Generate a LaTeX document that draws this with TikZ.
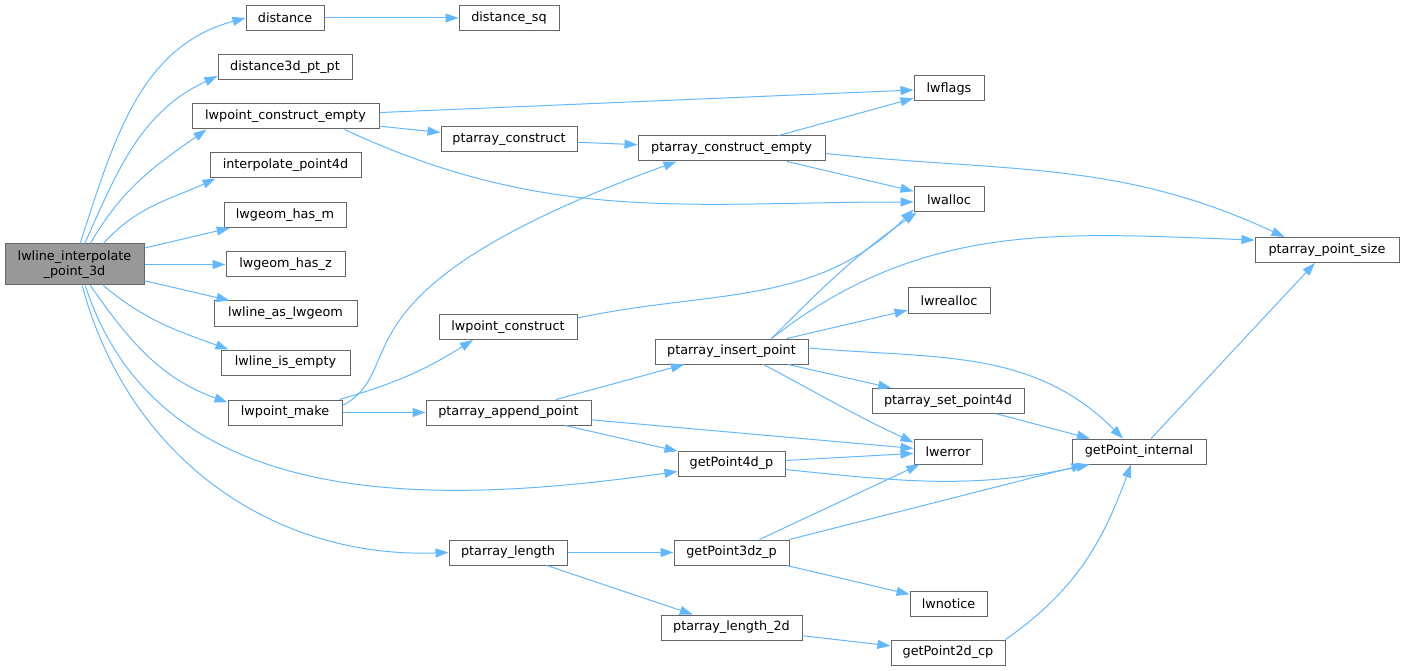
\documentclass[tikz,border=0pt]{standalone}
\usepackage{fontspec}
\setmainfont{DejaVu Sans}
\usetikzlibrary{arrows.meta, positioning}
\definecolor{edgeblue}{HTML}{63B8FF}
\definecolor{boxgray}{HTML}{666666}
\definecolor{curfill}{HTML}{999999}
\tikzset{
  every picture/.style={line width=1pt},
  func/.style={draw=boxgray, fill=white, rectangle, minimum height=25pt, inner sep=0pt, font=\fontsize{12.8}{14.5}\selectfont},
  cur/.style={func, fill=curfill, minimum height=41pt, align=center},
  every edge/.append style={draw=edgeblue},
  >={Triangle[length=13pt, width=9pt]}
}

\begin{document}
\begin{tikzpicture}[x=1pt, y=-1pt]
    \useasboundingbox (0,0) rectangle (1401,671);

    \node [cur, minimum width=139] (root) at (74.5,264.5) {lwline\_interpolate\\\_point\_3d};

    \node [func, minimum width=78] (dist) at (285,18) {distance};
    \node [func, minimum width=134] (d3d) at (285,67) {distance3d\_pt\_pt};
    \node [func, minimum width=187] (lwpce) at (285.5,116.5) {lwpoint\_construct\_empty};
    \node [func, minimum width=151] (interp) at (285.5,165.5) {interpolate\_point4d};
    \node [func, minimum width=122] (hasm) at (285,215) {lwgeom\_has\_m};
    \node [func, minimum width=119] (hasz) at (285.5,264.5) {lwgeom\_has\_z};
    \node [func, minimum width=143] (aslw) at (285.5,313.5) {lwline\_as\_lwgeom};
    \node [func, minimum width=129] (isempty) at (285.5,362.5) {lwline\_is\_empty};
    \node [func, minimum width=114] (lpmake) at (285,412.5) {lwpoint\_make};

    \node [func, minimum width=100] (distsq) at (509,18) {distance\_sq};
    \node [func, minimum width=136] (ptc) at (509,139.5) {ptarray\_construct};
    \node [func, minimum width=138] (lwpc) at (508,327) {lwpoint\_construct};
    \node [func, minimum width=165] (pap) at (508.5,412.5) {ptarray\_append\_point};
    \node [func, minimum width=118] (ptl) at (508,552.5) {ptarray\_length};

    \node [func, minimum width=187] (ptce) at (731.5,148.5) {ptarray\_construct\_empty};
    \node [func, minimum width=153] (ip) at (731.5,351.5) {ptarray\_insert\_point};
    \node [func, minimum width=107] (gp4d) at (731.5,463.5) {getPoint4d\_p};
    \node [func, minimum width=115] (gp3dz) at (731.5,552.5) {getPoint3dz\_p};
    \node [func, minimum width=141] (ptl2d) at (731.5,627.5) {ptarray\_length\_2d};

    \node [func, minimum width=70] (lwflags) at (949,88.5) {lwflags};
    \node [func, minimum width=70] (lwalloc) at (949,199.5) {lwalloc};
    \node [func, minimum width=82] (lwrealloc) at (949,300.5) {lwrealloc};
    \node [func, minimum width=152] (spd) at (948,401) {ptarray\_set\_point4d};
    \node [func, minimum width=68] (lwerror) at (948,451.5) {lwerror};
    \node [func, minimum width=77] (lwnotice) at (948.5,603.5) {lwnotice};
    \node [func, minimum width=114] (gp2dcp) at (948,652.5) {getPoint2d\_cp};

    \node [func, minimum width=134] (gpi) at (1139,451.5) {getPoint\_internal};
    \node [func, minimum width=144] (pps) at (1327,250) {ptarray\_point\_size};

    \draw(root.75) edge[->, out=72, in=195] (dist.west);
    \draw(root.64) edge[->, out=66, in=205] ([yshift=-9]d3d.west);
    \draw(root.53) edge[->, out=60, in=215] ([xshift=15]lwpce.south west);
    \draw(root.36) edge[->, out=48, in=205] ([xshift=6]interp.south west);
    \draw(root) edge[->] (hasm);
    \draw(root) edge[->] (hasz);
    \draw(root) edge[->] (aslw);
    \draw(root.-36) edge[->, out=-40, in=160] ([xshift=8]isempty.north west);
    \draw(root.-53) edge[->, out=-55, in=160] ([yshift=-3]lpmake.north west);
    \draw(root.-63) edge[->, out=-72, in=188] ([yshift=-8]gp4d.west);
    \draw(root.-70) edge[->, out=-75, in=182] (ptl.west);

    \draw(dist) edge[->] (distsq);

    \draw(lwpce) edge[->] (lwflags);
    \draw(lwpce) edge[->] (ptc);
    \draw([xshift=-35]lwpce.south east) edge[->, out=-25, in=180] ([yshift=-2.5]lwalloc.west);

    \draw(ptc) edge[->] (ptce);

    \draw(ptce) edge[->] (lwflags);
    \draw(ptce) edge[->] (lwalloc);
    \draw([yshift=-5]ptce.east) edge[->, out=-6, in=155] ([xshift=30]pps.north west);

    \draw([yshift=7]lpmake.east) edge[->, out=28, in=200, out distance=80, in distance=380] ([xshift=39]ptce.south west);
    \draw([xshift=-3]lpmake.north east) edge[->, bend right=8] ([xshift=-35]lwpc.south);
    \draw(lpmake) edge[->] (pap);

    \draw([yshift=9]lwpc.east) edge[->, out=12, in=225] ([yshift=3]lwalloc.south west);

    \draw(pap) edge[->] (ip);
    \draw(pap) edge[->] (lwerror);
    \draw(pap) edge[->] (gp4d);

    \draw([xshift=40]ip.north) edge[->, out=45, in=215] ([xshift=3]lwalloc.south west);
    \draw([xshift=40]ip.north) edge[->, out=38, in=178] ([yshift=10]pps.west);
    \draw(ip) edge[->] (lwrealloc);
    \draw([yshift=3.5]ip.east) edge[->, out=-5, in=135] ([xshift=-16]gpi.north);
    \draw(ip) edge[->] (spd);
    \draw([xshift=32]ip.south) edge[->, out=-28, in=155] ([yshift=9]lwerror.west);

    \draw(spd) edge[->] (gpi);

    \draw(gp4d) edge[->] (lwerror);
    \draw([yshift=-6]gp4d.east) edge[->, out=-6, in=192] ([xshift=18]gpi.south west);

    \draw([xshift=28]gp3dz.north) edge[->] ([xshift=6]lwerror.south west);
    \draw(gp3dz.north east) edge[->] ([xshift=13]gpi.south west);
    \draw(gp3dz) edge[->] (lwnotice);

    \draw(ptl) edge[->] (gp3dz);
    \draw(ptl) edge[->] (ptl2d);
    \draw(ptl2d) edge[->] (gp2dcp);

    \draw(gp2dcp.north east) edge[->, out=35, in=-110] ([xshift=-8]gpi.south);
    \draw(gpi) edge[->] (pps);
\end{tikzpicture}
\end{document}
